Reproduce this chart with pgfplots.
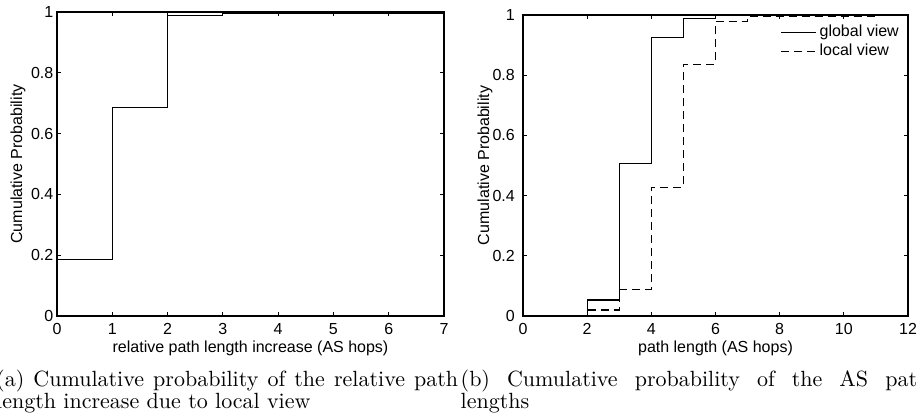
\documentclass[border=0pt]{standalone}
\usepackage{fontspec}
\usepackage{graphicx}
\usepackage{pgfplots}
\pgfplotsset{compat=1.18}
\newfontfamily\mlab{Liberation Sans}
\newcommand{\mfont}{\mlab\fontsize{16}{16}\selectfont}
\newcommand{\cfont}{\rmfamily\fontsize{10}{10}\selectfont}
\pgfplotsset{
  mstyle/.style={
    scale only axis,
    tick align=inside, major tick length=4pt,
    axis line style={line width=1.2pt},
    every tick/.style={black, line width=0.9pt},
    ticklabel style={font=\mfont},
    /pgf/number format/assume math mode=true,
    label style={font=\mfont},
    xticklabel style={inner sep=0pt, yshift=-7pt},
    yticklabel style={inner sep=0pt},
    xlabel style={at={(axis description cs:0.5,0)}, anchor=north, inner sep=0pt, yshift=-25pt},
    ymin=0, ymax=1, ytick={0,0.2,0.4,0.6,0.8,1},
  }
}
\begin{document}
\begin{tikzpicture}
\useasboundingbox (0pt,0pt) rectangle (917pt,414pt);
\clip (0pt,0pt) rectangle (917pt,414pt);

\begin{axis}[mstyle, at={(57pt,98pt)}, anchor=south west, width=387pt, height=304pt,
  xmin=0, xmax=7, xtick={0,1,2,3,4,5,6,7},
  yticklabel style={xshift=-3.5pt},
  ylabel style={at={([xshift=-39pt]axis description cs:0,0.5)}, anchor=center, inner sep=0pt},
  xlabel={relative path length increase (AS hops)},
  ylabel={Cumulative Probability}]
\addplot[const plot, black, line width=1.1pt] coordinates {
  (0,0.185) (1,0.687) (2,0.987) (3,0.995) (7,0.995)};
\end{axis}

\begin{axis}[mstyle, at={(523pt,98pt)}, anchor=south west, width=385pt, height=301pt,
  xmin=0, xmax=12, xtick={0,2,4,6,8,10,12},
  yticklabel style={xshift=-8pt},
  ylabel style={at={([xshift=-38pt]axis description cs:0,0.5)}, anchor=center, inner sep=0pt},
  xlabel={path length (AS hops)},
  ylabel={Cumulative Probability},
  legend style={at={(axis description cs:1,1)}, anchor=north east,
    xshift=-9pt, yshift=-9.5pt, draw=none, fill=none, inner sep=0pt,
    row sep=4pt, column sep=3pt,
    nodes={inner sep=0pt, text height=11.5pt, text depth=3.5pt, font=\mfont}},
  legend cell align=left,
  legend image code/.code={\draw[#1] (0pt,0pt) -- (35pt,0pt);}]
\addplot[const plot, black, line width=1.1pt] coordinates {
  (1,0) (2,0.053) (3,0.508) (4,0.925) (5,0.988) (6,0.998) (11,0.998)};
\addlegendentry{global view}
\addplot[const plot, black, line width=1.1pt, dash pattern=on 8pt off 5pt] coordinates {
  (1,0) (2,0.02) (3,0.089) (4,0.428) (5,0.836) (6,0.978) (7,0.995) (11,0.995)};
\addlegendentry{local view}
\end{axis}

\node[anchor=base west, inner sep=0pt] at (-4pt,27pt)
  {\scalebox{2.2}{\cfont\makebox[210pt][s]{(a) Cumulative probability of the relative path}}};
\node[anchor=base west, inner sep=0pt] at (-4pt,5pt)
  {\scalebox{2.2}{\cfont length increase due to local view}};
\node[anchor=base west, inner sep=0pt] at (460.5pt,27pt)
  {\scalebox{2.2}{\cfont\makebox[213pt][s]{(b) Cumulative probability of the AS path}}};
\node[anchor=base west, inner sep=0pt] at (460.5pt,5pt)
  {\scalebox{2.2}{\cfont lengths}};
\end{tikzpicture}
\end{document}
